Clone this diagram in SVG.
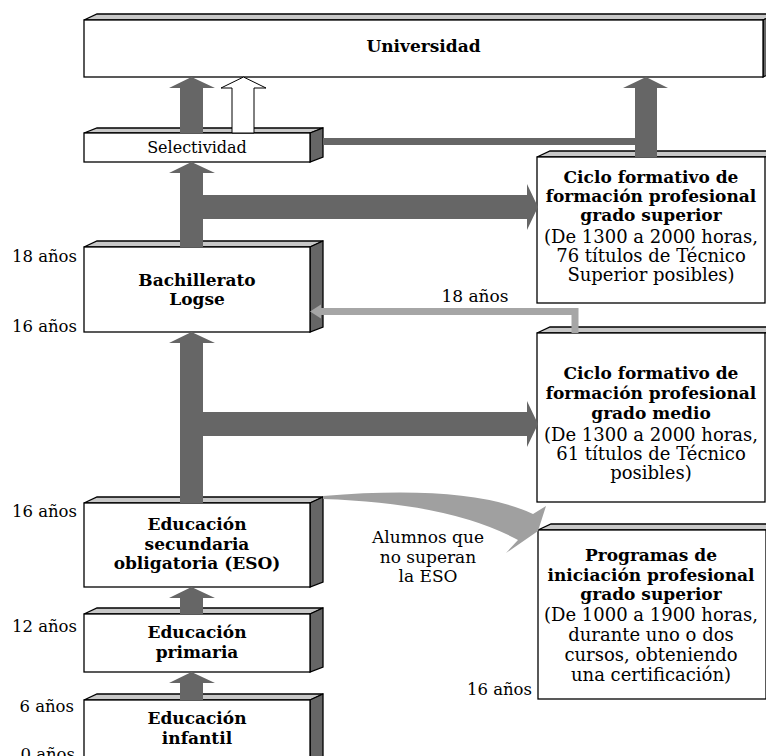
<svg xmlns="http://www.w3.org/2000/svg" width="766" height="756" viewBox="0 0 766 756">
<style>
.box{fill:#fff;stroke:#000;stroke-width:1.3}
.top{fill:#c8c8c8;stroke:#000;stroke-width:1.3}
.side{fill:#666;stroke:#000;stroke-width:1.3}
.arr{fill:#666}
.b{font-family:"DejaVu Serif",serif;font-weight:bold;font-size:17px;text-anchor:middle;fill:#000}
.r{font-family:"DejaVu Serif",serif;font-size:18px;text-anchor:middle;fill:#000}
.lab{font-family:"DejaVu Serif",serif;font-size:16.5px;text-anchor:end;fill:#000}
.note{font-family:"DejaVu Serif",serif;font-size:17px;text-anchor:middle;fill:#000}
</style>
<rect width="766" height="756" fill="#fff"/>
<g id="universidad">
<polygon class="top" points="84,20 97,14 776,14 763,20"/>
<polygon class="side" points="763,20 776,14 776,71 763,77"/>
<rect class="box" x="84" y="20" width="679" height="57"/>
<text class="b" x="423.5" y="52">Universidad</text>
</g>
<g id="selectividad">
<polygon class="top" points="84,133 97,128 323,128 310,133"/>
<polygon class="side" points="310,133 323,128 323,157 310,162"/>
<rect class="box" x="84" y="133" width="226" height="29"/>
<text class="r" style="font-size:16px" x="197" y="153">Selectividad</text>
</g>
<g id="bachillerato">
<polygon class="top" points="84,247 97,241 323,241 310,247"/>
<polygon class="side" points="310,247 323,241 323,327 310,332"/>
<rect class="box" x="84" y="247" width="226" height="85"/>
<text class="b" x="197" y="286">Bachillerato</text>
<text class="b" x="197" y="305">Logse</text>
</g>
<g id="eso">
<polygon class="top" points="84,503 97,497 323,497 310,503"/>
<polygon class="side" points="310,503 323,497 323,582 310,587"/>
<rect class="box" x="84" y="503" width="226" height="84"/>
<text class="b" x="197" y="530">Educación</text>
<text class="b" x="197" y="550">secundaria</text>
<text class="b" x="197" y="569">obligatoria (ESO)</text>
</g>
<g id="primaria">
<polygon class="top" points="84,614 97,608 323,608 310,614"/>
<polygon class="side" points="310,614 323,608 323,667 310,672"/>
<rect class="box" x="84" y="614" width="226" height="58"/>
<text class="b" x="197" y="638">Educación</text>
<text class="b" x="197" y="658">primaria</text>
</g>
<g id="infantil">
<polygon class="top" points="84,700 97,694 323,694 310,700"/>
<polygon class="side" points="310,700 323,694 323,765 310,770"/>
<rect class="box" x="84" y="700" width="226" height="70"/>
<text class="b" x="197" y="724">Educación</text>
<text class="b" x="197" y="744">infantil</text>
</g>
<g id="ciclo-superior">
<polygon class="top" points="537,157 550,151 778,151 765,157"/>
<rect class="box" x="537" y="157" width="228" height="146"/>
<text class="b" x="651" y="183">Ciclo formativo de</text>
<text class="b" x="651" y="202">formación profesional</text>
<text class="b" x="651" y="221">grado superior</text>
<text class="r" x="651" y="243">(De 1300 a 2000 horas,</text>
<text class="r" x="651" y="262">76 títulos de Técnico</text>
<text class="r" x="651" y="281">Superior posibles)</text>
</g>
<g id="ciclo-medio">
<polygon class="top" points="537,333 550,327 778,327 765,333"/>
<rect class="box" x="537" y="333" width="228" height="169"/>
<text class="b" x="651" y="379">Ciclo formativo de</text>
<text class="b" x="651" y="399">formación profesional</text>
<text class="b" x="651" y="419">grado medio</text>
<text class="r" x="651" y="441">(De 1300 a 2000 horas,</text>
<text class="r" x="651" y="460">61 títulos de Técnico</text>
<text class="r" x="651" y="479">posibles)</text>
</g>
<g id="programas">
<polygon class="top" points="538,530 551,524 779,524 766,530"/>
<rect class="box" x="538" y="530" width="228" height="169"/>
<text class="b" x="651" y="561">Programas de</text>
<text class="b" x="651" y="581">iniciación profesional</text>
<text class="b" x="651" y="600">grado superior</text>
<text class="r" x="651" y="621">(De 1000 a 1900 horas,</text>
<text class="r" x="651" y="641">durante uno o dos</text>
<text class="r" x="651" y="661">cursos, obteniendo</text>
<text class="r" x="651" y="681">una certificación)</text>
</g>
<g id="labels">
<text class="lab" x="77" y="262">18 años</text>
<text class="lab" x="77" y="332">16 años</text>
<text class="lab" x="77" y="517">16 años</text>
<text class="lab" x="77" y="632">12 años</text>
<text class="lab" x="74" y="712">6 años</text>
<text class="lab" x="75" y="760">0 años</text>
<text class="lab" x="532" y="695">16 años</text>
<text class="note" x="475" y="302">18 años</text>
<text class="note" x="428" y="543">Alumnos que</text>
<text class="note" x="428" y="563">no superan</text>
<text class="note" x="428" y="582">la ESO</text>
</g>
<g id="connectors">
<polygon class="arr" points="180,133 180,88 169,88 191.5,77 215,88 203,88 203,133"/>
<polygon points="232,133 232,88 221,88 243.5,77 266,88 254,88 254,133" fill="#fff" stroke="#000" stroke-width="1"/>
<polygon class="arr" points="180,247 180,173 169,173 191.5,162 215,173 203,173 203,195 527,195 527,184 538,207 527,230 527,219 203,219 203,247"/>
<polygon class="arr" points="180,503 180,343 169,343 191.5,332 215,343 203,343 203,412 527,412 527,401 538,424 527,447 527,436 203,436 203,503"/>
<polygon class="arr" points="180,614 180,598 169,598 191.5,587 215,598 203,598 203,614"/>
<polygon class="arr" points="180,700 180,683 169,683 191.5,672 215,683 203,683 203,700"/>
<polygon class="arr" points="323,138 635,138 635,88 623,88 646,77 668,88 657,88 657,157 635,157 635,145 323,145"/>
<polyline points="575,333 575,311.5 320,311.5" fill="none" stroke="#a6a6a6" stroke-width="7"/>
<polygon points="310,311.5 321,304.5 321,318.5" fill="#a6a6a6"/>
<path d="M323,496 Q470,484 533,514 L546,506 L538,531 L506,553 L518,540 Q450,503 323,499 Z" fill="#a0a0a0"/>
</g>
</svg>
